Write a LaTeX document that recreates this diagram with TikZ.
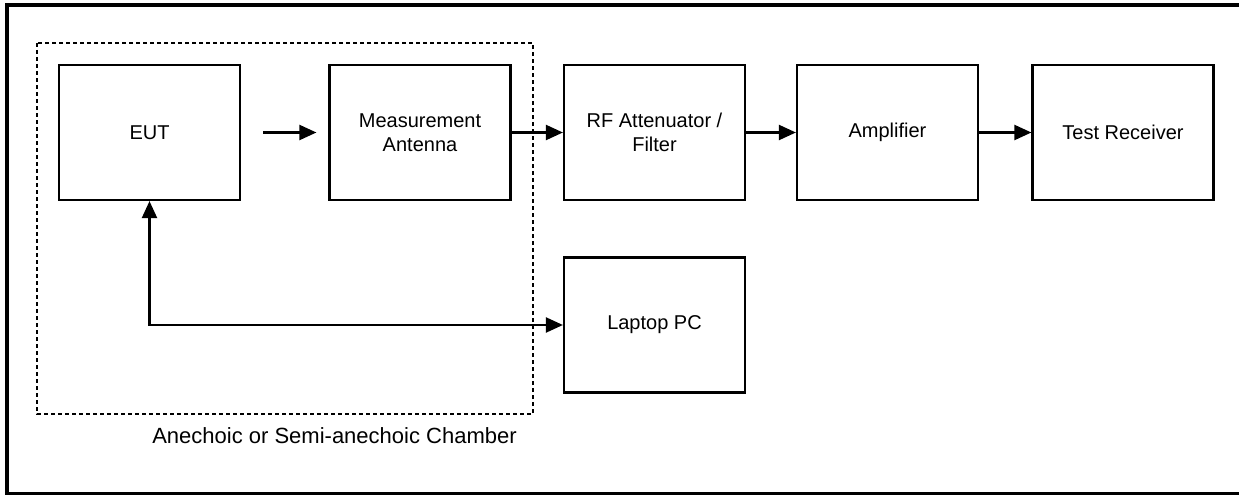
\documentclass[tikz,border=0pt]{standalone}
\usepackage{fontspec}
\setmainfont{Liberation Sans}
\usetikzlibrary{arrows.meta}

\tikzset{
  blk/.style={draw=black, line width=2.2pt, minimum width=181pt, minimum height=135pt, align=center, inner sep=0pt},
  sig/.style={line width=2.2pt, -{Triangle[length=17pt,width=15pt]}}
}

\begin{document}
\begin{tikzpicture}[x=1pt, y=-1pt, font=\fontsize{20}{24}\selectfont]
 \useasboundingbox (0,0) rectangle (1239,495);
 \draw[black, line width=4pt] (7,5.5) rectangle (1250,494);

 \draw[black, line width=1.8pt, dash pattern=on 4pt off 3pt] (37,43) rectangle (533,414);
 \node[font=\fontsize{22}{26}\selectfont] (chamber) at (334.5,436) {Anechoic or Semi-anechoic Chamber};

\node[blk] (eut) at (149.5,132.5) {EUT};
\node[blk] (ant) at (420,132.5) {Measurement\\Antenna};
\node[blk] (att) at (654.5,132.5) {RF Attenuator /\\Filter};
\node[blk] (amp) at (887.5,132.5) {Amplifier};
\node[blk] (rx) at (1123,132.5) {Test Receiver};
\node[blk] (pc) at (654.5,325) {Laptop PC};

\draw[sig, shorten <=22pt, shorten >=12pt] (eut) -- (ant);
\draw[sig] (ant) -- (att);
\draw[sig] (att) -- (amp);
\draw[sig] (amp) -- (rx);
\draw[sig, {Triangle[length=17pt,width=15pt]}-{Triangle[length=17pt,width=15pt]}] (eut.south) |- (pc.west);
\end{tikzpicture}
\end{document}
